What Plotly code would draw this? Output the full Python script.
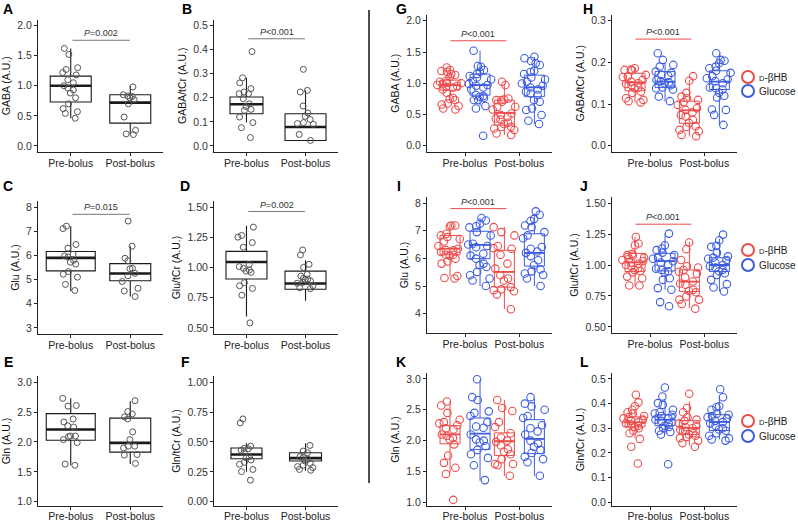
import plotly.graph_objects as go

W, H = 798, 522
RED = '#EE4B4B'
BLUE = '#3D5CE0'
FONT = 'Liberation Sans, Arial, sans-serif'

categories = ['Pre-bolus', 'Post-bolus']
group_names = ['<span style="font-size:7.5px">D</span>-βHB', 'Glucose']

# ---------------- left panels (A-F): [pre, post] ----------------
A_pre = [1.62, 1.52, 1.30, 1.27, 1.22, 1.18, 1.10, 1.05, 1.00, 0.96, 0.93, 0.88, 0.80, 0.70, 0.62, 0.57, 0.54, 0.46]
A_post = [0.98, 0.85, 0.83, 0.82, 0.80, 0.77, 0.70, 0.48, 0.26, 0.20, 0.19]
A_q1 = [0.73, 0.38]; A_med = [1.00, 0.72]; A_q3 = [1.16, 0.85]; A_lo = [0.46, 0.19]; A_hi = [1.62, 1.00]

B_pre = [0.392, 0.283, 0.262, 0.238, 0.224, 0.217, 0.217, 0.196, 0.175, 0.164, 0.152, 0.148, 0.120, 0.097, 0.076, 0.035]
B_post = [0.318, 0.231, 0.224, 0.166, 0.137, 0.123, 0.110, 0.097, 0.093, 0.090, 0.048, 0.023]
B_q1 = [0.134, 0.023]; B_med = [0.173, 0.079]; B_q3 = [0.203, 0.134]; B_lo = [0.097, 0.023]; B_hi = [0.283, 0.231]

C_pre = [7.21, 7.11, 6.45, 6.30, 6.05, 5.98, 5.93, 5.80, 5.72, 5.64, 5.33, 5.22, 5.10, 4.80, 4.55]
C_post = [7.42, 6.38, 5.88, 5.78, 5.47, 5.45, 5.26, 5.16, 4.92, 4.64, 4.53, 4.30]
C_q1 = [5.36, 4.95]; C_med = [5.90, 5.25]; C_q3 = [6.16, 5.66]; C_lo = [4.52, 4.30]; C_hi = [7.21, 6.38]

D_pre = [1.334, 1.265, 1.251, 1.206, 1.168, 1.026, 1.007, 0.993, 0.979, 0.970, 0.960, 0.874, 0.849, 0.827, 0.771, 0.542]
D_post = [1.145, 1.104, 1.026, 1.001, 0.943, 0.929, 0.910, 0.904, 0.900, 0.890, 0.877, 0.870, 0.849, 0.832, 0.825]
D_q1 = [0.905, 0.820]; D_med = [1.045, 0.868]; D_q3 = [1.133, 0.970]; D_lo = [0.595, 0.725]; D_hi = [1.345, 1.060]

E_pre = [2.73, 2.61, 2.60, 2.385, 2.335, 2.27, 2.25, 2.10, 2.10, 2.09, 2.04, 1.99, 1.63, 1.61]
E_post = [2.69, 2.51, 2.47, 2.42, 2.385, 2.17, 2.04, 1.93, 1.93, 1.90, 1.79, 1.78, 1.64]
E_q1 = [2.03, 1.83]; E_med = [2.21, 1.985]; E_q3 = [2.475, 2.40]; E_lo = [1.61, 1.63]; E_hi = [2.73, 2.68]

F_pre = [0.693, 0.659, 0.465, 0.446, 0.443, 0.430, 0.410, 0.377, 0.368, 0.349, 0.330, 0.313, 0.270, 0.252, 0.180]
F_post = [0.471, 0.424, 0.410, 0.377, 0.368, 0.355, 0.340, 0.321, 0.305, 0.294, 0.285, 0.270, 0.263]
F_q1 = [0.360, 0.340]; F_med = [0.395, 0.365]; F_q3 = [0.450, 0.410]; F_lo = [0.25, 0.26]; F_hi = [0.49, 0.49]

# ---------------- right panels (G-L): [red pre, red post, blue pre, blue post] ----------------
G_red_pre = [1.253, 1.211, 1.195, 1.184, 1.147, 1.131, 1.104, 1.04, 1.024, 1.008, 1.00, 0.985, 0.971, 0.955, 0.944, 0.930, 0.901, 0.848, 0.768, 0.747, 0.731, 0.677, 0.661, 0.635, 0.597, 0.58]
G_red_post = [1.024, 0.971, 0.757, 0.741, 0.73, 0.704, 0.731, 0.624, 0.624, 0.581, 0.517, 0.491, 0.46, 0.437, 0.42, 0.368, 0.347, 0.30, 0.277, 0.304, 0.251, 0.197, 0.171]
G_blue_pre = [1.52, 1.275, 1.264, 1.211, 1.184, 1.15, 1.115, 1.093, 1.06, 1.035, 0.99, 0.971, 0.96, 0.933, 0.901, 0.811, 0.795, 0.784, 0.77, 0.731, 0.731, 0.635, 0.597, 0.16]
G_blue_post = [1.424, 1.40, 1.355, 1.32, 1.291, 1.20, 1.18, 1.147, 1.093, 1.06, 1.024, 0.997, 0.96, 0.933, 0.90, 0.864, 0.837, 0.811, 0.731, 0.704, 0.597, 0.571, 0.491, 0.40, 0.347]
G_q1 = [0.89, 0.33, 0.81, 0.785]; G_med = [0.97, 0.525, 0.97, 0.935]; G_q3 = [1.05, 0.73, 1.145, 1.13]
G_lo = [0.72, 0.17, 0.64, 0.35]; G_hi = [1.24, 1.00, 1.52, 1.42]

H_red_pre = [0.186, 0.182, 0.183, 0.181, 0.166, 0.170, 0.165, 0.158, 0.154, 0.150, 0.148, 0.145, 0.140, 0.138, 0.130, 0.127, 0.114, 0.110, 0.107, 0.104]
H_red_post = [0.167, 0.156, 0.127, 0.118, 0.114, 0.110, 0.105, 0.098, 0.090, 0.086, 0.080, 0.074, 0.070, 0.062, 0.055, 0.047, 0.045, 0.038, 0.035, 0.026, 0.023]
H_blue_pre = [0.222, 0.206, 0.194, 0.190, 0.178, 0.175, 0.170, 0.168, 0.158, 0.155, 0.152, 0.150, 0.145, 0.140, 0.138, 0.135, 0.118, 0.107]
H_blue_post = [0.222, 0.206, 0.204, 0.198, 0.190, 0.186, 0.180, 0.175, 0.167, 0.162, 0.159, 0.155, 0.150, 0.140, 0.138, 0.135, 0.127, 0.116, 0.120, 0.087, 0.086, 0.074, 0.050]
H_q1 = [0.132, 0.054, 0.140, 0.135]; H_med = [0.152, 0.085, 0.154, 0.154]; H_q3 = [0.174, 0.107, 0.178, 0.180]
H_lo = [0.104, 0.022, 0.107, 0.050]; H_hi = [0.188, 0.158, 0.200, 0.222]

I_red_pre = [7.19, 7.19, 7.16, 6.89, 6.83, 6.77, 6.70, 6.61, 6.45, 6.35, 6.30, 6.29, 6.23, 6.13, 6.13, 6.10, 5.99, 5.89, 5.81, 5.36, 5.29, 5.27]
I_red_post = [7.13, 6.95, 6.83, 6.45, 6.37, 6.35, 6.13, 5.81, 5.63, 5.39, 5.27, 5.20, 4.96, 4.88, 4.85, 4.81, 4.69, 4.16]
I_blue_pre = [7.46, 7.37, 7.25, 7.16, 7.12, 6.95, 6.83, 6.53, 6.50, 6.45, 6.40, 6.17, 6.10, 5.99, 5.81, 5.75, 5.69, 5.51, 5.39, 5.27, 5.20, 5.00]
I_blue_post = [7.70, 7.58, 7.43, 7.35, 7.19, 7.13, 6.95, 6.83, 6.73, 6.41, 6.35, 6.25, 6.20, 6.08, 5.93, 5.75, 5.60, 5.53, 5.45, 5.40, 5.27, 5.00]
I_q1 = [6.13, 4.96, 5.99, 5.72]; I_med = [6.35, 5.51, 6.49, 6.20]; I_q3 = [6.83, 6.29, 6.98, 6.89]
I_lo = [5.35, 4.16, 5.00, 5.00]; I_hi = [7.25, 7.13, 7.46, 7.61]

J_red_pre = [1.227, 1.174, 1.16, 1.09, 1.08, 1.075, 1.06, 1.05, 1.04, 1.032, 1.02, 1.01, 1.0, 0.99, 0.975, 0.96, 0.952, 0.94, 0.906, 0.893, 0.834, 0.834]
J_red_post = [1.182, 1.128, 1.04, 0.99, 0.98, 0.96, 0.946, 0.93, 0.90, 0.866, 0.85, 0.84, 0.80, 0.79, 0.78, 0.746, 0.72, 0.72, 0.684, 0.647]
J_blue_pre = [1.254, 1.16, 1.134, 1.12, 1.10, 1.08, 1.06, 1.05, 1.03, 1.02, 1.0, 0.97, 0.96, 0.95, 0.94, 0.88, 0.893, 0.80, 0.813, 0.70, 0.666]
J_blue_post = [1.246, 1.20, 1.155, 1.147, 1.10, 1.07, 1.06, 1.05, 1.04, 1.02, 1.00, 0.99, 0.98, 0.96, 0.95, 0.933, 0.92, 0.88, 0.845, 0.818, 0.786]
J_q1 = [0.947, 0.786, 0.952, 0.947]; J_med = [1.021, 0.866, 1.032, 1.000]; J_q3 = [1.094, 0.960, 1.094, 1.059]
J_lo = [0.826, 0.652, 0.800, 0.786]; J_hi = [1.227, 1.187, 1.254, 1.214]

K_red_pre = [2.635, 2.57, 2.45, 2.34, 2.30, 2.28, 2.25, 2.20, 2.18, 2.10, 2.08, 2.045, 2.02, 1.94, 1.76, 1.64, 1.56, 1.46, 1.04]
K_red_post = [2.66, 2.53, 2.48, 2.30, 2.22, 2.12, 2.05, 2.00, 1.98, 1.92, 1.86, 1.82, 1.78, 1.70, 1.62, 1.62, 1.60, 1.43]
K_blue_pre = [2.995, 2.705, 2.66, 2.475, 2.45, 2.40, 2.30, 2.23, 2.21, 2.10, 2.02, 2.0, 1.97, 1.91, 1.85, 1.78, 1.72, 1.60, 1.36]
K_blue_post = [2.705, 2.60, 2.555, 2.50, 2.40, 2.367, 2.25, 2.20, 2.15, 2.10, 2.00, 1.95, 1.90, 1.85, 1.80, 1.74, 1.70, 1.65, 1.43]
K_q1 = [1.949, 1.760, 1.858, 1.790]; K_med = [2.100, 1.990, 2.115, 2.030]; K_q3 = [2.244, 2.126, 2.367, 2.340]
K_lo = [1.48, 1.43, 1.35, 1.43]; K_hi = [2.635, 2.66, 2.98, 2.69]

L_red_pre = [0.436, 0.405, 0.389, 0.375, 0.365, 0.36, 0.35, 0.345, 0.34, 0.335, 0.33, 0.325, 0.32, 0.315, 0.31, 0.305, 0.30, 0.29, 0.28, 0.257, 0.225, 0.157]
L_red_post = [0.44, 0.382, 0.365, 0.345, 0.335, 0.33, 0.32, 0.31, 0.305, 0.30, 0.295, 0.29, 0.28, 0.275, 0.27, 0.265, 0.26, 0.25, 0.24, 0.225]
L_blue_pre = [0.465, 0.429, 0.402, 0.395, 0.375, 0.365, 0.36, 0.355, 0.35, 0.34, 0.335, 0.33, 0.32, 0.31, 0.305, 0.30, 0.29, 0.285, 0.275, 0.154]
L_blue_post = [0.458, 0.426, 0.389, 0.385, 0.375, 0.36, 0.355, 0.35, 0.345, 0.34, 0.33, 0.325, 0.32, 0.31, 0.30, 0.295, 0.29, 0.28, 0.27, 0.259, 0.255, 0.25]
L_q1 = [0.306, 0.275, 0.311, 0.291]; L_med = [0.324, 0.302, 0.335, 0.326]; L_q3 = [0.346, 0.331, 0.355, 0.355]
L_lo = [0.261, 0.230, 0.277, 0.255]; L_hi = [0.375, 0.409, 0.418, 0.426]

# y-axis titles and ticks
titles = ['GABA (A.U.)', 'GABA/tCr (A.U.)', 'Glu (A.U.)', 'Glu/tCr (A.U.)', 'Gln (A.U.)', 'Gln/tCr (A.U.)']
yt_gaba = [0, 0.5, 1.0, 1.5, 2.0]
yt_gabacr = [0, 0.1, 0.2, 0.3, 0.4, 0.5]
yt_gabacr_r = [0, 0.1, 0.2, 0.3]
yt_glu = [3, 4, 5, 6, 7, 8]
yt_glu_r = [4, 5, 6, 7, 8]
yt_glucr = [0.5, 0.75, 1.0, 1.25, 1.5]
yt_gln = [1.0, 1.5, 2.0, 2.5, 3.0]
yt_glncr = [0, 0.25, 0.5, 0.75, 1.0]

# significance annotations: text, bar y-level
p_text = {'A': '=0.002', 'B': '&lt;0.001', 'C': '=0.015', 'D': '=0.002',
          'G': '&lt;0.001', 'H': '&lt;0.001', 'I': '&lt;0.001', 'J': '&lt;0.001'}
p_bar_y = {'A': 1.755, 'B': 0.445, 'C': 7.70, 'D': 1.463,
           'G': 1.68, 'H': 0.256, 'I': 7.80, 'J': 1.33}

# ---------------- layout geometry (pixels) ----------------
COLS = [(38, 163), (214, 338), (427, 552), (612, 737)]
ROWS_L = [(19.5, 152), (201, 334), (376, 506)]
ROWS_R = [(14.5, 152), (197, 333), (373, 506)]
XR_L = [-0.55, 1.55]
XR_R = [-0.7, 1.6]
DODGE = 0.276
BOXW_R_PX = 20
JIT_L_PX = 20
JIT_R_PX = 26

fig = go.Figure()
layout = dict(width=W, height=H, margin=dict(l=0, r=0, t=0, b=0),
              paper_bgcolor='white', plot_bgcolor='white',
              font=dict(family=FONT, size=10.5, color='#222'),
              boxmode='overlay', showlegend=True)
annotations = []
shapes = []


def axes(n, col, row, yrange, yticks, yfmt, ytitle, xr, bottom):
    x0, x1 = col
    y0, y1 = row
    layout[f'xaxis{n}'] = dict(domain=[x0 / W, x1 / W], range=xr, anchor=f'y{n}', type='linear',
                               tickvals=[0, 1], ticktext=categories, tickangle=0,
                               showline=True, linecolor='#222', linewidth=1,
                               ticks='outside', ticklen=3, tickcolor='#222',
                               ticklabelstandoff=-3 if bottom else -2,
                               tickfont=dict(size=10.5, color='#222'),
                               showgrid=False, zeroline=False, automargin=False)
    layout[f'yaxis{n}'] = dict(domain=[1 - y1 / H, 1 - y0 / H], range=yrange, anchor=f'x{n}',
                               tickvals=yticks, tickformat=yfmt,
                               showline=True, linecolor='#222', linewidth=1,
                               ticks='outside', ticklen=3, tickcolor='#222',
                               tickfont=dict(size=10.5, color='#333'),
                               showgrid=False, zeroline=False, automargin=False,
                               title=dict(text=ytitle, font=dict(size=10.5, color='#111'), standoff=4))
    return (x1 - x0) / (xr[1] - xr[0])


def add_box(n, pos, q1, med, q3, lo, hi, w, color, lw, mw, fill):
    ax = dict(xaxis=f'x{n}', yaxis=f'y{n}', showlegend=False, hoverinfo='skip')
    fig.add_trace(go.Box(x=[pos], q1=[q1], median=[med], q3=[q3], lowerfence=[lo], upperfence=[hi],
                         width=w, boxpoints=False, whiskerwidth=0, fillcolor=fill,
                         line=dict(color=color, width=lw), **ax))
    fig.add_trace(go.Box(x=[pos], q1=[med], median=[med], q3=[med], lowerfence=[med], upperfence=[med],
                         width=w, boxpoints=False, whiskerwidth=0, fillcolor='rgba(0,0,0,0)',
                         line=dict(color=color, width=mw), **ax))


def add_points(n, pos, pts, w, color, size, lw):
    fig.add_trace(go.Box(y=pts, x0=pos, width=w, boxpoints='all', jitter=1, pointpos=0,
                         whiskerwidth=0, fillcolor='rgba(0,0,0,0)',
                         line=dict(color='rgba(0,0,0,0)', width=0),
                         marker=dict(symbol='circle-open', size=size, color=color,
                                     line=dict(width=lw, color=color)),
                         xaxis=f'x{n}', yaxis=f'y{n}', showlegend=False, hoverinfo='skip'))


def letter(txt, xpx, ypx):
    annotations.append(dict(text=f'<b>{txt}</b>', x=xpx / W, y=1 - ypx / H, xref='paper', yref='paper',
                            showarrow=False, xanchor='center', yanchor='middle',
                            font=dict(size=14, color='#000')))


def pbar(n, key, xa, xb, color):
    yv = p_bar_y[key]
    shapes.append(dict(type='line', xref=f'x{n}', yref=f'y{n}', x0=xa, x1=xb, y0=yv, y1=yv,
                       line=dict(color=color, width=1)))
    annotations.append(dict(text=f'<i>P</i>{p_text[key]}', x=(xa + xb) / 2, y=yv,
                            xref=f'x{n}', yref=f'y{n}', showarrow=False, yanchor='bottom',
                            yshift=0, font=dict(size=9, color='#333')))


# ---------------- left panels ----------------
left = [
    ('A', A_pre, A_post, A_q1, A_med, A_q3, A_lo, A_hi, [-0.1, 2.1], yt_gaba, '.1f', titles[0], 0, 0, [41, 41]),
    ('B', B_pre, B_post, B_q1, B_med, B_q3, B_lo, B_hi, [-0.025, 0.525], yt_gabacr, '.1f', titles[1], 1, 0, [33, 41]),
    ('C', C_pre, C_post, C_q1, C_med, C_q3, C_lo, C_hi, [2.75, 8.25], yt_glu, 'd', titles[2], 0, 1, [49, 41]),
    ('D', D_pre, D_post, D_q1, D_med, D_q3, D_lo, D_hi, [0.45, 1.55], yt_glucr, '.2f', titles[3], 1, 1, [41, 41]),
    ('E', E_pre, E_post, E_q1, E_med, E_q3, E_lo, E_hi, [0.929, 3.104], yt_gln, '.1f', titles[4], 0, 2, [49, 41]),
    ('F', F_pre, F_post, F_q1, F_med, F_q3, F_lo, F_hi, [-0.036, 1.052], yt_glncr, '.2f', titles[5], 1, 2, [31, 32]),
]
letter_pos = {'A': (8, 9), 'B': (187, 9), 'C': (8, 186), 'D': (185, 186), 'E': (8, 362), 'F': (185, 362),
              'G': (401, 9), 'H': (588, 9), 'I': (399, 186), 'J': (584, 186), 'K': (401, 362), 'L': (584, 362)}

n = 0
for (key, pre, post, q1, med, q3, lo, hi, yr, yt, fmt, tt, ci, ri, bw) in left:
    n += 1
    ppu = axes(n, COLS[ci], ROWS_L[ri], yr, yt, fmt, tt, XR_L, ri == 2)
    for g, pts in enumerate([pre, post]):
        add_box(n, g, q1[g], med[g], q3[g], lo[g], hi[g], bw[g] / ppu, '#1a1a1a', 1.1, 2.6, 'white')
    for g, pts in enumerate([pre, post]):
        add_points(n, g, pts, JIT_L_PX / ppu, '#555555', 6, 1)
    letter(key, *letter_pos[key])
    if key in p_bar_y:
        pbar(n, key, 0.03, 0.99, '#777777')

# ---------------- right panels ----------------
right = [
    ('G', [G_red_pre, G_red_post, G_blue_pre, G_blue_post], G_q1, G_med, G_q3, G_lo, G_hi, [-0.1, 2.1], yt_gaba, '.1f', titles[0], 2, 0),
    ('H', [H_red_pre, H_red_post, H_blue_pre, H_blue_post], H_q1, H_med, H_q3, H_lo, H_hi, [-0.015, 0.315], yt_gabacr_r, '.1f', titles[1], 3, 0),
    ('I', [I_red_pre, I_red_post, I_blue_pre, I_blue_post], I_q1, I_med, I_q3, I_lo, I_hi, [3.3, 8.22], yt_glu_r, 'd', titles[2], 2, 1),
    ('J', [J_red_pre, J_red_post, J_blue_pre, J_blue_post], J_q1, J_med, J_q3, J_lo, J_hi, [0.45, 1.55], yt_glucr, '.2f', titles[3], 3, 1),
    ('K', [K_red_pre, K_red_post, K_blue_pre, K_blue_post], K_q1, K_med, K_q3, K_lo, K_hi, [0.94, 3.097], yt_gln, '.1f', titles[4], 2, 2),
    ('L', [L_red_pre, L_red_post, L_blue_pre, L_blue_post], L_q1, L_med, L_q3, L_lo, L_hi, [-0.015, 0.524], [0, 0.1, 0.2, 0.3, 0.4, 0.5], '.1f', titles[5], 3, 2),
]
positions = [0 - DODGE, 1 - DODGE, 0 + DODGE, 1 + DODGE]
colors = [RED, RED, BLUE, BLUE]
legend_rows = {'H': (77, 91), 'J': (250, 265), 'L': (421, 436)}
LEG_X = 728      # legend box left edge (key circle sits ~19 px right of it)
LEG_TEXT_X = 757

leg_i = 0
for (key, pts_list, q1, med, q3, lo, hi, yr, yt, fmt, tt, ci, ri) in right:
    n += 1
    ppu = axes(n, COLS[ci], ROWS_R[ri], yr, yt, fmt, tt, XR_R, ri == 2)
    for g in range(4):
        add_box(n, positions[g], q1[g], med[g], q3[g], lo[g], hi[g], BOXW_R_PX / ppu, colors[g], 1, 1.8,
                'rgba(0,0,0,0)')
    for g in range(4):
        add_points(n, positions[g], pts_list[g], JIT_R_PX / ppu, colors[g], 7.5, 1.1)
    letter(key, *letter_pos[key])
    if key in p_bar_y:
        pbar(n, key, -0.27, 0.76, RED)
    if key in legend_rows:
        for name, c, ypx in zip(group_names, [RED, BLUE], legend_rows[key]):
            leg_i += 1
            lname = 'legend' if leg_i == 1 else f'legend{leg_i}'
            fig.add_trace(go.Scatter(x=[None], y=[None], mode='markers', name=' ',
                                     marker=dict(symbol='circle-open', size=12, color=c, line=dict(width=2, color=c)),
                                     xaxis=f'x{n}', yaxis=f'y{n}', legend=lname, hoverinfo='skip'))
            layout[lname] = dict(x=LEG_X / W, y=1 - ypx / H, xanchor='left', yanchor='middle',
                                 bgcolor='rgba(0,0,0,0)', font=dict(size=6, color='#222'),
                                 tracegroupgap=0, itemwidth=30)
            annotations.append(dict(text=name, x=LEG_TEXT_X / W, y=1 - ypx / H, xref='paper', yref='paper',
                                    showarrow=False, xanchor='left', yanchor='middle',
                                    font=dict(size=10, color='#222')))

# vertical divider
shapes.append(dict(type='line', xref='paper', yref='paper', x0=369 / W, x1=369 / W,
                   y0=1 - 10 / H, y1=1 - 483 / H, line=dict(color='#111', width=1.5)))

layout['annotations'] = annotations
layout['shapes'] = shapes
fig.update_layout(**layout)
fig.write_html('out.html', config={'displayModeBar': False, 'responsive': False},
               post_script="document.body.style.margin='0';document.body.style.padding='0';"
                           "document.body.style.overflow='hidden';")
